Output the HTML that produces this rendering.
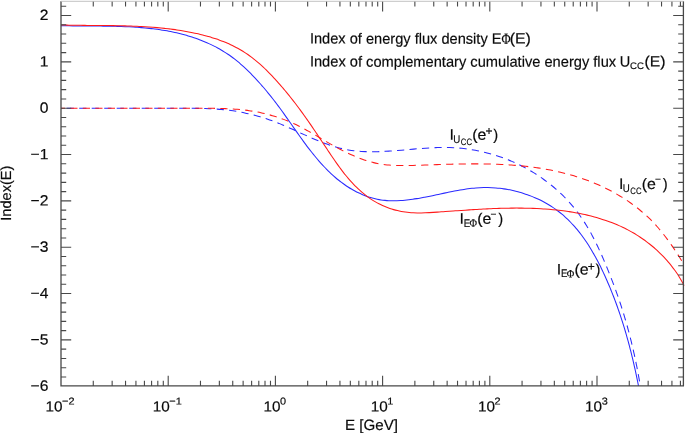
<!DOCTYPE html>
<html><head><meta charset="utf-8"><title>Index(E)</title>
<style>html,body{margin:0;padding:0;background:#fff}svg{display:block}</style></head>
<body>
<svg width="685" height="433" viewBox="0 0 685 433" style="display:block">
<rect width="685" height="433" fill="#fff"/>
<clipPath id="c"><rect x="60.5" y="1" width="624" height="385"/></clipPath>
<g clip-path="url(#c)" fill="none" stroke-linecap="butt">
<path d="M61.00,108.30C61.67,108.30 63.67,108.30 65.00,108.30C66.33,108.30 67.67,108.30 69.00,108.30C70.33,108.30 71.67,108.30 73.00,108.30C74.33,108.30 75.67,108.30 77.00,108.30C78.33,108.30 79.67,108.30 81.00,108.30C82.33,108.30 83.67,108.30 85.00,108.30C86.33,108.30 87.67,108.30 89.00,108.30C90.33,108.30 91.67,108.30 93.00,108.30C94.33,108.30 95.67,108.30 97.00,108.30C98.33,108.30 99.67,108.30 101.00,108.30C102.33,108.30 103.67,108.30 105.00,108.30C106.33,108.30 107.67,108.30 109.00,108.30C110.33,108.30 111.67,108.30 113.00,108.30C114.33,108.30 115.67,108.30 117.00,108.30C118.33,108.30 119.67,108.30 121.00,108.30C122.33,108.30 123.67,108.30 125.00,108.30C126.33,108.30 127.67,108.30 129.00,108.30C130.33,108.30 131.67,108.30 133.00,108.30C134.33,108.30 135.67,108.30 137.00,108.30C138.33,108.30 139.67,108.30 141.00,108.30C142.33,108.30 143.67,108.30 145.00,108.30C146.33,108.30 147.67,108.30 149.00,108.30C150.34,108.30 151.67,108.30 153.00,108.30C154.34,108.30 155.67,108.30 157.00,108.30C158.34,108.30 159.67,108.30 161.00,108.30C162.34,108.30 163.67,108.30 165.00,108.30C166.33,108.30 167.66,108.31 168.99,108.32C170.32,108.32 171.65,108.32 172.98,108.32C174.32,108.32 175.65,108.32 176.99,108.32C178.32,108.31 179.66,108.31 181.00,108.30C182.34,108.30 183.68,108.30 185.02,108.30C186.36,108.30 187.70,108.29 189.04,108.30C190.38,108.30 191.72,108.31 193.07,108.32C194.41,108.33 195.75,108.34 197.09,108.36C198.43,108.37 199.77,108.40 201.11,108.43C202.45,108.45 203.80,108.49 205.13,108.53C206.47,108.57 207.81,108.62 209.15,108.68C210.49,108.73 211.82,108.80 213.16,108.87C214.49,108.95 215.83,109.03 217.16,109.12C218.49,109.22 219.82,109.32 221.15,109.44C222.47,109.55 223.80,109.68 225.12,109.82C226.45,109.96 227.77,110.11 229.09,110.28C230.40,110.44 231.72,110.62 233.03,110.81C234.35,111.00 235.66,111.21 236.96,111.43C238.27,111.65 239.58,111.88 240.88,112.13C242.18,112.37 243.48,112.63 244.78,112.90C246.07,113.17 247.36,113.46 248.65,113.76C249.94,114.05 251.23,114.37 252.52,114.69C253.80,115.01 255.08,115.35 256.36,115.70C257.64,116.05 258.91,116.42 260.18,116.79C261.45,117.17 262.72,117.56 263.98,117.96C265.25,118.36 266.51,118.78 267.77,119.21C269.02,119.63 270.28,120.07 271.53,120.53C272.78,120.98 274.03,121.45 275.27,121.93C276.51,122.41 277.75,122.90 278.99,123.40C280.22,123.91 281.46,124.42 282.69,124.95C283.92,125.47 285.15,126.00 286.37,126.54C287.60,127.08 288.82,127.63 290.05,128.18C291.27,128.73 292.49,129.29 293.71,129.84C294.94,130.40 296.16,130.96 297.38,131.53C298.60,132.09 299.82,132.65 301.04,133.21C302.27,133.77 303.49,134.33 304.71,134.88C305.94,135.44 307.16,135.99 308.39,136.54C309.61,137.08 310.84,137.62 312.07,138.16C313.30,138.69 314.53,139.22 315.76,139.74C317.00,140.26 318.23,140.77 319.47,141.26C320.70,141.76 321.94,142.25 323.19,142.72C324.43,143.20 325.67,143.66 326.92,144.11C328.17,144.55 329.42,144.99 330.67,145.40C331.93,145.82 333.19,146.22 334.45,146.60C335.71,146.98 336.98,147.34 338.25,147.68C339.52,148.02 340.79,148.34 342.07,148.64C343.35,148.94 344.63,149.22 345.92,149.47C347.20,149.72 348.50,149.95 349.79,150.16C351.09,150.36 352.39,150.54 353.70,150.71C355.01,150.87 356.32,151.00 357.63,151.12C358.94,151.24 360.26,151.34 361.58,151.43C362.90,151.51 364.22,151.57 365.55,151.62C366.87,151.67 368.20,151.70 369.53,151.72C370.86,151.73 372.19,151.73 373.52,151.72C374.85,151.71 376.18,151.69 377.52,151.66C378.85,151.62 380.19,151.58 381.52,151.52C382.86,151.47 384.19,151.40 385.53,151.33C386.86,151.26 388.20,151.17 389.54,151.09C390.87,151.00 392.21,150.91 393.55,150.81C394.88,150.71 396.22,150.60 397.56,150.49C398.89,150.39 400.23,150.27 401.57,150.16C402.90,150.05 404.24,149.93 405.58,149.81C406.92,149.69 408.25,149.57 409.59,149.46C410.93,149.34 412.27,149.22 413.60,149.11C414.94,148.99 416.28,148.88 417.62,148.77C418.95,148.66 420.29,148.55 421.63,148.45C422.96,148.35 424.30,148.25 425.64,148.16C426.97,148.07 428.31,147.99 429.65,147.91C430.98,147.84 432.32,147.77 433.65,147.71C434.99,147.65 436.32,147.60 437.66,147.56C438.99,147.52 440.32,147.50 441.66,147.48C442.99,147.46 444.32,147.46 445.66,147.47C446.99,147.48 448.32,147.50 449.65,147.54C450.98,147.58 452.32,147.63 453.65,147.70C454.98,147.77 456.31,147.86 457.63,147.96C458.96,148.06 460.29,148.18 461.62,148.31C462.94,148.45 464.27,148.60 465.59,148.77C466.91,148.93 468.23,149.11 469.55,149.31C470.87,149.51 472.19,149.72 473.50,149.95C474.82,150.18 476.13,150.43 477.44,150.69C478.75,150.95 480.05,151.23 481.35,151.52C482.66,151.81 483.96,152.12 485.25,152.44C486.55,152.76 487.84,153.10 489.13,153.45C490.42,153.80 491.70,154.17 492.98,154.55C494.26,154.94 495.54,155.33 496.81,155.74C498.08,156.16 499.34,156.58 500.60,157.02C501.86,157.47 503.12,157.92 504.37,158.39C505.62,158.86 506.86,159.35 508.10,159.85C509.34,160.35 510.57,160.86 511.80,161.39C513.03,161.92 514.25,162.46 515.46,163.01C516.67,163.57 517.88,164.14 519.08,164.72C520.28,165.31 521.48,165.90 522.66,166.52C523.85,167.13 525.03,167.75 526.20,168.39C527.37,169.03 528.53,169.68 529.68,170.35C530.84,171.01 531.99,171.69 533.12,172.39C534.26,173.08 535.39,173.78 536.51,174.50C537.63,175.22 538.75,175.95 539.85,176.70C540.95,177.44 542.05,178.20 543.13,178.97C544.21,179.74 545.29,180.53 546.35,181.33C547.42,182.12 548.47,182.93 549.52,183.75C550.56,184.57 551.59,185.41 552.62,186.26C553.64,187.10 554.65,187.96 555.65,188.83C556.66,189.70 557.65,190.59 558.62,191.48C559.60,192.38 560.57,193.29 561.53,194.21C562.48,195.13 563.43,196.06 564.36,197.00C565.29,197.95 566.21,198.90 567.12,199.87C568.02,200.84 568.92,201.82 569.80,202.81C570.68,203.80 571.55,204.80 572.40,205.81C573.26,206.83 574.10,207.85 574.93,208.89C575.75,209.92 576.57,210.97 577.37,212.03C578.17,213.09 578.96,214.16 579.73,215.24C580.50,216.32 581.26,217.41 582.00,218.51C582.75,219.61 583.48,220.72 584.20,221.84C584.92,222.96 585.63,224.09 586.32,225.23C587.02,226.36 587.70,227.51 588.38,228.66C589.05,229.82 589.71,230.98 590.36,232.15C591.01,233.32 591.65,234.49 592.28,235.68C592.92,236.86 593.54,238.05 594.15,239.24C594.76,240.44 595.36,241.64 595.96,242.84C596.55,244.05 597.13,245.26 597.71,246.47C598.29,247.69 598.86,248.91 599.42,250.13C599.98,251.35 600.54,252.58 601.09,253.81C601.63,255.04 602.18,256.27 602.71,257.50C603.25,258.74 603.78,259.97 604.30,261.21C604.83,262.45 605.35,263.69 605.86,264.93C606.37,266.17 606.88,267.42 607.39,268.66C607.90,269.90 608.40,271.14 608.90,272.38C609.39,273.63 609.89,274.87 610.38,276.11C610.87,277.35 611.35,278.60 611.83,279.84C612.31,281.09 612.79,282.33 613.26,283.58C613.74,284.82 614.20,286.07 614.67,287.31C615.13,288.56 615.59,289.81 616.04,291.06C616.49,292.31 616.94,293.56 617.38,294.81C617.82,296.07 618.26,297.32 618.69,298.58C619.12,299.84 619.55,301.09 619.97,302.35C620.39,303.61 620.80,304.87 621.21,306.14C621.62,307.40 622.03,308.67 622.42,309.93C622.82,311.20 623.22,312.47 623.61,313.74C623.99,315.01 624.38,316.28 624.76,317.55C625.13,318.83 625.51,320.10 625.88,321.38C626.24,322.65 626.61,323.93 626.96,325.21C627.32,326.49 627.68,327.77 628.02,329.05C628.37,330.34 628.72,331.62 629.05,332.91C629.39,334.19 629.73,335.48 630.05,336.77C630.38,338.06 630.71,339.35 631.03,340.64C631.35,341.93 631.66,343.22 631.97,344.52C632.28,345.81 632.59,347.11 632.89,348.41C633.19,349.70 633.48,351.00 633.77,352.30C634.07,353.60 634.35,354.91 634.64,356.21C634.92,357.51 635.20,358.82 635.47,360.12C635.74,361.43 636.01,362.74 636.28,364.04C636.54,365.35 636.81,366.66 637.06,367.97C637.32,369.28 637.57,370.60 637.82,371.91C638.07,373.22 638.31,374.54 638.55,375.86C638.79,377.17 639.03,378.49 639.26,379.81C639.49,381.13 639.77,382.75 639.94,383.77C640.12,384.78 640.24,385.55 640.30,385.90" stroke="#2a2aff" stroke-width="1.05" stroke-dasharray="7.22 5.28" stroke-dashoffset="6.8"/>
<path d="M61.00,108.30C61.67,108.30 63.67,108.30 65.00,108.30C66.33,108.30 67.67,108.30 69.00,108.30C70.33,108.30 71.67,108.30 73.00,108.30C74.33,108.30 75.67,108.30 77.00,108.30C78.33,108.30 79.67,108.30 81.00,108.30C82.33,108.30 83.67,108.30 85.00,108.30C86.33,108.30 87.67,108.30 89.00,108.30C90.33,108.30 91.67,108.30 93.00,108.30C94.33,108.30 95.67,108.30 97.00,108.30C98.33,108.30 99.67,108.30 101.00,108.30C102.33,108.30 103.67,108.30 105.00,108.30C106.33,108.30 107.67,108.30 109.00,108.30C110.33,108.30 111.67,108.30 113.00,108.30C114.33,108.30 115.67,108.30 117.00,108.30C118.33,108.30 119.67,108.30 121.00,108.30C122.34,108.30 123.67,108.30 125.00,108.30C126.34,108.30 127.67,108.30 129.00,108.30C130.34,108.30 131.67,108.30 133.00,108.30C134.34,108.30 135.67,108.30 137.00,108.30C138.34,108.30 139.67,108.30 141.00,108.30C142.34,108.30 143.67,108.30 145.00,108.30C146.34,108.30 147.67,108.30 149.00,108.30C150.34,108.30 151.67,108.30 153.00,108.30C154.34,108.30 155.67,108.30 157.00,108.30C158.34,108.30 159.67,108.30 161.00,108.30C162.34,108.30 163.67,108.30 165.00,108.30C166.34,108.30 167.67,108.30 169.00,108.30C170.34,108.30 171.67,108.30 173.00,108.30C174.34,108.30 175.67,108.30 177.00,108.30C178.34,108.30 179.67,108.30 181.00,108.30C182.34,108.30 183.67,108.30 185.00,108.30C186.33,108.30 187.65,108.31 188.98,108.31C190.31,108.32 191.64,108.32 192.97,108.32C194.31,108.31 195.64,108.31 196.98,108.31C198.32,108.31 199.66,108.31 201.00,108.30C202.34,108.30 203.68,108.30 205.02,108.31C206.36,108.31 207.71,108.31 209.05,108.32C210.40,108.33 211.74,108.34 213.09,108.35C214.43,108.37 215.78,108.39 217.12,108.42C218.47,108.44 219.81,108.47 221.16,108.51C222.50,108.55 223.85,108.59 225.19,108.64C226.53,108.70 227.87,108.75 229.21,108.82C230.55,108.89 231.89,108.97 233.23,109.06C234.57,109.14 235.90,109.24 237.23,109.35C238.57,109.46 239.90,109.58 241.22,109.71C242.55,109.84 243.88,109.98 245.20,110.14C246.52,110.30 247.84,110.46 249.16,110.65C250.47,110.83 251.78,111.03 253.09,111.25C254.40,111.46 255.70,111.69 257.00,111.93C258.30,112.18 259.60,112.44 260.89,112.72C262.18,112.99 263.47,113.28 264.75,113.59C266.04,113.90 267.31,114.22 268.59,114.56C269.86,114.90 271.13,115.25 272.40,115.63C273.66,116.00 274.92,116.38 276.18,116.78C277.43,117.18 278.68,117.60 279.93,118.04C281.18,118.47 282.42,118.92 283.65,119.38C284.89,119.85 286.12,120.33 287.34,120.82C288.57,121.32 289.79,121.83 291.00,122.36C292.22,122.89 293.43,123.43 294.63,123.99C295.83,124.55 297.03,125.13 298.22,125.72C299.42,126.31 300.60,126.92 301.79,127.54C302.97,128.15 304.15,128.79 305.32,129.43C306.50,130.07 307.67,130.72 308.84,131.38C310.01,132.03 311.18,132.70 312.34,133.38C313.51,134.05 314.67,134.73 315.84,135.41C317.00,136.09 318.16,136.78 319.33,137.46C320.49,138.15 321.65,138.84 322.82,139.52C323.98,140.21 325.15,140.89 326.32,141.58C327.49,142.26 328.66,142.94 329.83,143.61C331.00,144.28 332.18,144.95 333.36,145.61C334.53,146.27 335.72,146.93 336.90,147.57C338.09,148.21 339.28,148.85 340.47,149.48C341.66,150.10 342.86,150.72 344.06,151.32C345.25,151.92 346.46,152.51 347.66,153.09C348.87,153.67 350.08,154.23 351.29,154.78C352.51,155.32 353.73,155.86 354.95,156.37C356.17,156.89 357.40,157.39 358.63,157.87C359.86,158.35 361.10,158.81 362.34,159.25C363.58,159.69 364.82,160.11 366.07,160.51C367.32,160.91 368.57,161.28 369.83,161.64C371.09,161.99 372.35,162.32 373.62,162.63C374.88,162.93 376.16,163.21 377.44,163.46C378.71,163.72 380.00,163.94 381.29,164.14C382.57,164.34 383.87,164.52 385.16,164.67C386.46,164.82 387.76,164.95 389.07,165.06C390.37,165.17 391.68,165.26 393.00,165.33C394.31,165.41 395.63,165.46 396.95,165.50C398.27,165.54 399.59,165.57 400.91,165.58C402.24,165.59 403.57,165.59 404.90,165.58C406.23,165.58 407.56,165.56 408.89,165.53C410.23,165.50 411.56,165.47 412.90,165.43C414.24,165.39 415.58,165.35 416.92,165.31C418.26,165.26 419.60,165.21 420.94,165.17C422.28,165.12 423.62,165.07 424.96,165.02C426.30,164.98 427.65,164.93 428.99,164.88C430.33,164.84 431.67,164.79 433.02,164.74C434.36,164.70 435.70,164.65 437.05,164.61C438.39,164.56 439.74,164.52 441.08,164.48C442.43,164.44 443.77,164.40 445.11,164.36C446.46,164.32 447.80,164.28 449.15,164.24C450.49,164.21 451.84,164.17 453.18,164.14C454.53,164.11 455.87,164.08 457.22,164.05C458.56,164.03 459.91,164.00 461.25,163.98C462.60,163.96 463.94,163.94 465.28,163.92C466.63,163.90 467.97,163.89 469.31,163.88C470.66,163.87 472.00,163.86 473.34,163.86C474.68,163.86 476.03,163.86 477.37,163.87C478.71,163.87 480.05,163.88 481.39,163.89C482.73,163.91 484.07,163.92 485.41,163.94C486.75,163.97 488.08,163.99 489.42,164.03C490.76,164.06 492.10,164.09 493.43,164.13C494.77,164.18 496.10,164.22 497.44,164.28C498.77,164.33 500.10,164.39 501.44,164.45C502.77,164.51 504.10,164.58 505.43,164.66C506.76,164.73 508.09,164.82 509.42,164.90C510.75,164.99 512.07,165.09 513.40,165.19C514.72,165.29 516.05,165.40 517.37,165.51C518.69,165.63 520.02,165.75 521.34,165.88C522.66,166.01 523.98,166.14 525.29,166.29C526.61,166.43 527.93,166.58 529.24,166.74C530.56,166.90 531.87,167.07 533.18,167.25C534.49,167.42 535.80,167.61 537.11,167.80C538.42,167.99 539.73,168.19 541.03,168.40C542.34,168.61 543.64,168.83 544.94,169.06C546.24,169.29 547.54,169.53 548.84,169.77C550.14,170.02 551.43,170.28 552.73,170.54C554.02,170.81 555.31,171.08 556.60,171.37C557.89,171.66 559.18,171.95 560.46,172.26C561.75,172.56 563.03,172.88 564.31,173.21C565.59,173.53 566.87,173.87 568.15,174.22C569.43,174.57 570.70,174.93 571.97,175.30C573.24,175.67 574.51,176.05 575.78,176.45C577.05,176.84 578.31,177.25 579.58,177.67C580.84,178.08 582.10,178.51 583.35,178.95C584.61,179.40 585.87,179.85 587.12,180.31C588.37,180.78 589.62,181.26 590.86,181.75C592.11,182.24 593.35,182.75 594.59,183.26C595.83,183.78 597.06,184.31 598.29,184.85C599.52,185.39 600.75,185.94 601.97,186.51C603.19,187.07 604.40,187.65 605.61,188.24C606.82,188.83 608.02,189.44 609.22,190.05C610.42,190.67 611.61,191.30 612.79,191.94C613.97,192.58 615.15,193.23 616.32,193.90C617.49,194.56 618.65,195.24 619.81,195.93C620.96,196.63 622.10,197.33 623.24,198.05C624.38,198.76 625.51,199.49 626.62,200.23C627.74,200.97 628.85,201.73 629.95,202.50C631.05,203.26 632.14,204.04 633.22,204.83C634.30,205.63 635.37,206.43 636.42,207.25C637.48,208.07 638.53,208.90 639.56,209.74C640.60,210.58 641.62,211.44 642.63,212.30C643.64,213.17 644.64,214.05 645.62,214.95C646.61,215.84 647.58,216.75 648.54,217.66C649.50,218.58 650.44,219.51 651.38,220.46C652.31,221.40 653.23,222.36 654.13,223.33C655.04,224.29 655.93,225.27 656.81,226.26C657.69,227.25 658.56,228.25 659.42,229.27C660.28,230.28 661.12,231.30 661.96,232.33C662.79,233.36 663.62,234.40 664.43,235.45C665.25,236.50 666.05,237.55 666.85,238.62C667.64,239.69 668.43,240.76 669.21,241.84C669.98,242.92 670.75,244.01 671.51,245.10C672.28,246.20 673.03,247.30 673.77,248.40C674.52,249.51 675.26,250.62 675.99,251.74C676.72,252.86 677.45,253.98 678.17,255.11C678.89,256.23 679.60,257.37 680.31,258.50C681.02,259.63 681.75,260.83 682.42,261.91C683.08,263.00 683.98,264.49 684.29,265.00" stroke="#ff1a1a" stroke-width="1.05" stroke-dasharray="7.2 5.3" stroke-dashoffset="3.2"/>
<path d="M61.00,25.70C61.66,25.71 63.64,25.76 64.97,25.79C66.29,25.81 67.62,25.83 68.94,25.85C70.27,25.87 71.60,25.89 72.93,25.91C74.26,25.92 75.59,25.93 76.92,25.95C78.26,25.96 79.59,25.97 80.93,25.97C82.26,25.98 83.60,25.99 84.94,26.00C86.27,26.00 87.61,26.01 88.95,26.02C90.29,26.02 91.63,26.03 92.97,26.04C94.31,26.04 95.65,26.05 96.99,26.06C98.34,26.07 99.68,26.08 101.02,26.09C102.36,26.11 103.71,26.12 105.05,26.14C106.39,26.16 107.74,26.18 109.08,26.20C110.42,26.22 111.77,26.25 113.11,26.28C114.45,26.30 115.79,26.34 117.13,26.37C118.48,26.41 119.82,26.45 121.16,26.50C122.50,26.54 123.84,26.59 125.18,26.65C126.52,26.71 127.86,26.77 129.20,26.84C130.53,26.90 131.87,26.98 133.21,27.06C134.54,27.14 135.88,27.22 137.21,27.32C138.54,27.41 139.88,27.51 141.21,27.62C142.54,27.73 143.87,27.85 145.19,27.97C146.52,28.10 147.85,28.23 149.17,28.37C150.49,28.51 151.82,28.66 153.14,28.82C154.46,28.98 155.77,29.15 157.09,29.33C158.41,29.51 159.72,29.70 161.03,29.90C162.34,30.10 163.65,30.32 164.96,30.54C166.26,30.76 167.57,30.99 168.87,31.24C170.17,31.48 171.47,31.74 172.76,32.01C174.06,32.28 175.35,32.56 176.64,32.86C177.93,33.15 179.22,33.46 180.50,33.78C181.78,34.10 183.06,34.44 184.34,34.79C185.61,35.14 186.89,35.50 188.16,35.88C189.43,36.26 190.69,36.65 191.95,37.06C193.22,37.47 194.48,37.89 195.73,38.33C196.98,38.77 198.23,39.22 199.48,39.70C200.73,40.17 201.97,40.65 203.20,41.16C204.44,41.66 205.67,42.18 206.89,42.72C208.11,43.26 209.33,43.81 210.54,44.38C211.74,44.96 212.94,45.54 214.13,46.15C215.33,46.75 216.51,47.38 217.68,48.02C218.85,48.66 220.02,49.31 221.17,49.99C222.32,50.66 223.46,51.36 224.59,52.07C225.72,52.78 226.84,53.51 227.95,54.25C229.05,55.00 230.14,55.77 231.22,56.55C232.30,57.33 233.37,58.13 234.42,58.95C235.47,59.77 236.51,60.60 237.54,61.44C238.57,62.29 239.59,63.15 240.59,64.03C241.60,64.90 242.60,65.79 243.58,66.69C244.56,67.58 245.54,68.50 246.50,69.41C247.46,70.33 248.42,71.26 249.36,72.20C250.31,73.14 251.24,74.08 252.17,75.03C253.09,75.99 254.01,76.95 254.92,77.91C255.82,78.87 256.72,79.84 257.62,80.82C258.51,81.80 259.39,82.78 260.27,83.76C261.15,84.75 262.01,85.75 262.88,86.74C263.74,87.74 264.60,88.75 265.44,89.76C266.29,90.77 267.14,91.78 267.97,92.81C268.81,93.83 269.64,94.86 270.47,95.89C271.29,96.92 272.11,97.96 272.93,99.01C273.75,100.05 274.56,101.10 275.36,102.15C276.17,103.21 276.97,104.27 277.77,105.34C278.57,106.40 279.36,107.48 280.15,108.55C280.94,109.63 281.73,110.71 282.51,111.80C283.30,112.89 284.08,113.98 284.86,115.08C285.64,116.17 286.42,117.27 287.20,118.37C287.98,119.48 288.75,120.58 289.53,121.69C290.30,122.79 291.08,123.90 291.85,125.01C292.63,126.12 293.41,127.23 294.18,128.34C294.96,129.44 295.74,130.55 296.52,131.66C297.30,132.77 298.08,133.87 298.87,134.98C299.65,136.08 300.44,137.19 301.23,138.28C302.02,139.38 302.81,140.48 303.61,141.57C304.41,142.66 305.21,143.75 306.02,144.83C306.82,145.92 307.63,146.99 308.45,148.07C309.27,149.14 310.09,150.20 310.92,151.26C311.75,152.32 312.58,153.37 313.42,154.42C314.27,155.46 315.11,156.50 315.97,157.53C316.83,158.55 317.69,159.57 318.57,160.58C319.44,161.59 320.32,162.59 321.21,163.58C322.10,164.56 323.00,165.54 323.91,166.51C324.82,167.47 325.74,168.43 326.67,169.37C327.60,170.31 328.54,171.24 329.50,172.16C330.45,173.07 331.41,173.97 332.39,174.86C333.37,175.75 334.36,176.62 335.36,177.48C336.36,178.33 337.37,179.18 338.40,180.00C339.43,180.83 340.47,181.64 341.53,182.43C342.59,183.22 343.66,183.99 344.74,184.75C345.83,185.50 346.93,186.24 348.04,186.96C349.16,187.67 350.29,188.37 351.43,189.04C352.58,189.72 353.74,190.37 354.91,191.00C356.08,191.63 357.26,192.23 358.45,192.81C359.65,193.38 360.85,193.93 362.07,194.46C363.29,194.98 364.52,195.47 365.76,195.94C366.99,196.40 368.24,196.83 369.50,197.23C370.76,197.63 372.03,198.00 373.30,198.33C374.58,198.67 375.86,198.97 377.15,199.23C378.44,199.49 379.74,199.72 381.05,199.91C382.35,200.10 383.67,200.25 384.98,200.38C386.30,200.50 387.62,200.59 388.95,200.66C390.27,200.72 391.60,200.75 392.93,200.76C394.26,200.77 395.59,200.74 396.92,200.70C398.25,200.66 399.58,200.59 400.91,200.51C402.24,200.42 403.57,200.31 404.90,200.19C406.22,200.07 407.55,199.92 408.87,199.76C410.19,199.61 411.51,199.43 412.83,199.24C414.15,199.06 415.47,198.85 416.79,198.64C418.10,198.43 419.42,198.20 420.73,197.97C422.05,197.73 423.36,197.49 424.67,197.24C425.98,196.98 427.29,196.72 428.60,196.46C429.91,196.19 431.22,195.92 432.53,195.65C433.84,195.37 435.15,195.09 436.46,194.81C437.77,194.53 439.07,194.25 440.38,193.97C441.69,193.69 443.00,193.41 444.31,193.13C445.61,192.85 446.92,192.57 448.23,192.30C449.54,192.03 450.85,191.77 452.16,191.51C453.47,191.25 454.78,190.99 456.09,190.75C457.40,190.50 458.71,190.27 460.03,190.04C461.34,189.82 462.66,189.60 463.97,189.40C465.29,189.20 466.60,189.01 467.92,188.83C469.24,188.66 470.56,188.50 471.88,188.35C473.21,188.21 474.53,188.08 475.85,187.98C477.18,187.87 478.51,187.78 479.84,187.71C481.17,187.64 482.50,187.60 483.83,187.57C485.17,187.55 486.50,187.55 487.84,187.57C489.18,187.59 490.52,187.63 491.86,187.70C493.20,187.76 494.54,187.85 495.88,187.96C497.21,188.07 498.55,188.20 499.89,188.35C501.23,188.50 502.56,188.68 503.89,188.88C505.23,189.07 506.56,189.29 507.88,189.53C509.21,189.77 510.53,190.03 511.85,190.31C513.17,190.60 514.48,190.90 515.79,191.22C517.10,191.55 518.40,191.89 519.70,192.26C520.99,192.63 522.29,193.02 523.57,193.42C524.85,193.83 526.13,194.26 527.39,194.71C528.66,195.16 529.92,195.63 531.17,196.12C532.42,196.61 533.66,197.13 534.89,197.66C536.12,198.19 537.34,198.74 538.54,199.31C539.75,199.88 540.95,200.48 542.14,201.09C543.32,201.70 544.49,202.33 545.65,202.98C546.81,203.63 547.96,204.30 549.09,204.99C550.22,205.68 551.34,206.39 552.45,207.12C553.55,207.85 554.64,208.60 555.71,209.37C556.78,210.14 557.84,210.93 558.88,211.73C559.92,212.54 560.94,213.36 561.95,214.21C562.95,215.05 563.95,215.91 564.92,216.79C565.90,217.67 566.85,218.56 567.80,219.47C568.74,220.38 569.67,221.31 570.58,222.26C571.50,223.20 572.40,224.16 573.28,225.13C574.17,226.11 575.04,227.09 575.89,228.10C576.75,229.10 577.59,230.12 578.42,231.14C579.25,232.17 580.07,233.22 580.87,234.27C581.67,235.32 582.46,236.39 583.24,237.47C584.02,238.55 584.78,239.64 585.53,240.74C586.29,241.84 587.03,242.95 587.76,244.07C588.49,245.19 589.20,246.32 589.91,247.46C590.62,248.59 591.31,249.74 592.00,250.90C592.68,252.05 593.35,253.22 594.02,254.39C594.68,255.56 595.33,256.74 595.98,257.92C596.62,259.10 597.25,260.30 597.88,261.49C598.50,262.69 599.12,263.89 599.72,265.10C600.33,266.30 600.92,267.51 601.51,268.73C602.10,269.94 602.68,271.16 603.25,272.38C603.83,273.61 604.39,274.83 604.95,276.06C605.50,277.29 606.05,278.52 606.59,279.75C607.14,280.98 607.67,282.21 608.20,283.44C608.73,284.68 609.25,285.91 609.76,287.15C610.28,288.38 610.78,289.62 611.29,290.86C611.79,292.10 612.28,293.34 612.77,294.58C613.26,295.82 613.74,297.06 614.21,298.31C614.69,299.55 615.16,300.80 615.62,302.05C616.08,303.29 616.54,304.54 616.99,305.79C617.44,307.04 617.88,308.29 618.32,309.55C618.76,310.80 619.19,312.06 619.62,313.31C620.04,314.57 620.46,315.83 620.88,317.09C621.29,318.34 621.70,319.60 622.11,320.87C622.51,322.13 622.91,323.39 623.30,324.66C623.70,325.92 624.08,327.19 624.47,328.46C624.85,329.73 625.23,331.00 625.60,332.27C625.97,333.54 626.34,334.82 626.70,336.09C627.06,337.37 627.42,338.64 627.77,339.92C628.13,341.20 628.47,342.48 628.82,343.76C629.16,345.04 629.50,346.33 629.83,347.61C630.17,348.90 630.50,350.18 630.82,351.47C631.15,352.76 631.47,354.05 631.79,355.34C632.10,356.63 632.42,357.93 632.72,359.22C633.03,360.52 633.34,361.82 633.64,363.12C633.94,364.41 634.24,365.72 634.53,367.02C634.82,368.32 635.11,369.63 635.40,370.93C635.68,372.24 635.96,373.55 636.24,374.86C636.52,376.17 636.80,377.48 637.07,378.79C637.34,380.11 637.63,381.56 637.87,382.74C638.11,383.92 638.40,385.37 638.50,385.90" stroke="#2a2aff" stroke-width="1.05"/>
<path d="M61.00,25.00C61.67,25.01 63.66,25.07 64.99,25.10C66.32,25.13 67.65,25.15 68.98,25.18C70.31,25.20 71.64,25.23 72.97,25.25C74.30,25.27 75.63,25.29 76.97,25.30C78.30,25.32 79.63,25.33 80.97,25.35C82.30,25.36 83.64,25.37 84.97,25.39C86.31,25.40 87.64,25.41 88.98,25.42C90.31,25.43 91.65,25.44 92.98,25.45C94.32,25.46 95.66,25.47 96.99,25.48C98.33,25.49 99.67,25.50 101.00,25.51C102.34,25.52 103.68,25.53 105.02,25.55C106.35,25.56 107.69,25.57 109.03,25.59C110.36,25.61 111.70,25.62 113.04,25.64C114.37,25.67 115.71,25.69 117.05,25.71C118.38,25.74 119.72,25.76 121.06,25.79C122.39,25.82 123.73,25.86 125.07,25.89C126.40,25.93 127.74,25.97 129.07,26.01C130.41,26.06 131.74,26.10 133.08,26.15C134.41,26.21 135.75,26.26 137.08,26.32C138.41,26.38 139.75,26.45 141.08,26.52C142.41,26.59 143.74,26.66 145.07,26.74C146.40,26.82 147.73,26.91 149.06,27.00C150.39,27.09 151.72,27.19 153.05,27.29C154.38,27.40 155.71,27.51 157.03,27.62C158.36,27.74 159.69,27.86 161.01,27.99C162.34,28.12 163.66,28.26 164.98,28.41C166.31,28.55 167.63,28.70 168.95,28.86C170.27,29.03 171.59,29.19 172.91,29.37C174.23,29.55 175.55,29.73 176.86,29.93C178.18,30.12 179.49,30.32 180.81,30.54C182.12,30.75 183.43,30.97 184.75,31.20C186.06,31.43 187.37,31.67 188.68,31.92C189.98,32.17 191.29,32.43 192.60,32.70C193.90,32.98 195.21,33.26 196.51,33.55C197.81,33.84 199.11,34.15 200.41,34.46C201.71,34.78 203.01,35.10 204.30,35.44C205.59,35.78 206.88,36.13 208.17,36.50C209.45,36.87 210.74,37.24 212.01,37.64C213.29,38.03 214.56,38.44 215.82,38.86C217.09,39.28 218.35,39.72 219.60,40.17C220.85,40.63 222.10,41.10 223.33,41.58C224.57,42.07 225.80,42.57 227.02,43.09C228.24,43.61 229.45,44.15 230.65,44.71C231.85,45.26 233.05,45.84 234.23,46.43C235.41,47.03 236.58,47.64 237.74,48.28C238.90,48.91 240.04,49.56 241.18,50.24C242.31,50.91 243.44,51.61 244.55,52.33C245.66,53.04 246.75,53.78 247.84,54.54C248.92,55.30 250.00,56.08 251.06,56.87C252.12,57.67 253.17,58.48 254.21,59.31C255.24,60.14 256.27,60.99 257.29,61.85C258.30,62.71 259.31,63.59 260.31,64.48C261.30,65.37 262.29,66.27 263.27,67.19C264.24,68.10 265.21,69.03 266.17,69.97C267.13,70.91 268.08,71.86 269.02,72.82C269.96,73.77 270.89,74.74 271.82,75.72C272.75,76.69 273.66,77.68 274.58,78.67C275.49,79.65 276.39,80.65 277.29,81.65C278.19,82.65 279.08,83.66 279.96,84.67C280.85,85.68 281.72,86.69 282.60,87.71C283.47,88.73 284.33,89.75 285.19,90.78C286.05,91.81 286.90,92.84 287.75,93.88C288.60,94.91 289.44,95.95 290.27,97.00C291.10,98.04 291.93,99.09 292.76,100.14C293.58,101.19 294.39,102.24 295.21,103.30C296.02,104.36 296.82,105.42 297.62,106.48C298.42,107.55 299.21,108.61 300.00,109.68C300.79,110.75 301.57,111.83 302.35,112.90C303.13,113.97 303.90,115.05 304.67,116.13C305.44,117.21 306.20,118.29 306.96,119.38C307.72,120.46 308.48,121.55 309.23,122.64C309.99,123.73 310.74,124.82 311.48,125.91C312.23,127.00 312.98,128.10 313.72,129.19C314.46,130.29 315.20,131.39 315.94,132.49C316.68,133.59 317.42,134.69 318.16,135.79C318.90,136.89 319.63,138.00 320.37,139.10C321.10,140.21 321.84,141.31 322.57,142.42C323.31,143.53 324.05,144.63 324.78,145.74C325.52,146.85 326.26,147.96 327.00,149.07C327.74,150.19 328.47,151.30 329.22,152.41C329.96,153.52 330.71,154.63 331.46,155.74C332.20,156.85 332.96,157.96 333.72,159.06C334.48,160.17 335.24,161.27 336.01,162.37C336.78,163.46 337.56,164.56 338.34,165.64C339.13,166.73 339.92,167.81 340.72,168.89C341.52,169.96 342.34,171.03 343.16,172.09C343.98,173.15 344.81,174.20 345.66,175.24C346.51,176.28 347.36,177.32 348.23,178.34C349.10,179.36 349.99,180.37 350.89,181.36C351.79,182.36 352.70,183.35 353.63,184.32C354.56,185.29 355.51,186.25 356.47,187.19C357.43,188.13 358.41,189.06 359.40,189.96C360.40,190.87 361.40,191.76 362.43,192.63C363.45,193.50 364.49,194.35 365.55,195.17C366.61,196.00 367.68,196.80 368.76,197.58C369.85,198.35 370.95,199.11 372.06,199.83C373.18,200.56 374.31,201.25 375.46,201.92C376.60,202.59 377.76,203.23 378.94,203.83C380.11,204.44 381.30,205.01 382.50,205.56C383.70,206.10 384.92,206.62 386.14,207.10C387.37,207.58 388.61,208.03 389.86,208.45C391.10,208.87 392.36,209.26 393.63,209.62C394.90,209.98 396.18,210.31 397.46,210.61C398.75,210.91 400.04,211.18 401.34,211.43C402.64,211.67 403.95,211.88 405.26,212.06C406.57,212.24 407.89,212.40 409.21,212.52C410.53,212.65 411.86,212.74 413.19,212.81C414.52,212.88 415.85,212.92 417.18,212.94C418.52,212.96 419.86,212.95 421.19,212.93C422.53,212.91 423.87,212.87 425.21,212.82C426.55,212.77 427.90,212.70 429.24,212.63C430.58,212.55 431.92,212.47 433.26,212.38C434.60,212.29 435.94,212.20 437.28,212.11C438.62,212.01 439.96,211.92 441.30,211.82C442.63,211.73 443.97,211.64 445.30,211.54C446.64,211.45 447.97,211.35 449.30,211.26C450.64,211.16 451.97,211.07 453.30,210.97C454.63,210.88 455.96,210.78 457.29,210.69C458.62,210.60 459.95,210.51 461.27,210.42C462.60,210.32 463.93,210.23 465.25,210.15C466.58,210.06 467.91,209.97 469.23,209.88C470.56,209.80 471.88,209.72 473.21,209.63C474.53,209.55 475.86,209.47 477.18,209.40C478.50,209.32 479.83,209.24 481.15,209.17C482.47,209.10 483.80,209.03 485.12,208.96C486.44,208.90 487.77,208.83 489.09,208.77C490.41,208.71 491.74,208.65 493.06,208.60C494.38,208.55 495.71,208.50 497.03,208.45C498.35,208.41 499.68,208.36 501.00,208.33C502.33,208.29 503.65,208.25 504.98,208.23C506.30,208.20 507.63,208.17 508.95,208.15C510.28,208.13 511.60,208.12 512.93,208.11C514.26,208.10 515.59,208.09 516.91,208.09C518.24,208.10 519.57,208.10 520.90,208.11C522.23,208.13 523.56,208.14 524.89,208.17C526.23,208.19 527.56,208.22 528.89,208.26C530.23,208.30 531.56,208.34 532.90,208.39C534.23,208.44 535.57,208.50 536.91,208.56C538.25,208.62 539.59,208.69 540.93,208.77C542.27,208.85 543.61,208.93 544.95,209.03C546.29,209.12 547.63,209.22 548.97,209.33C550.31,209.44 551.65,209.56 553.00,209.68C554.34,209.81 555.68,209.95 557.02,210.09C558.36,210.23 559.70,210.39 561.03,210.55C562.37,210.71 563.71,210.88 565.04,211.07C566.38,211.25 567.71,211.44 569.04,211.64C570.37,211.84 571.70,212.06 573.03,212.28C574.35,212.50 575.68,212.74 577.00,212.98C578.32,213.22 579.64,213.48 580.95,213.75C582.27,214.02 583.58,214.29 584.89,214.58C586.19,214.87 587.50,215.18 588.80,215.49C590.10,215.81 591.40,216.13 592.69,216.47C593.98,216.81 595.27,217.17 596.55,217.53C597.83,217.90 599.11,218.27 600.38,218.67C601.65,219.06 602.92,219.46 604.18,219.88C605.44,220.30 606.70,220.74 607.95,221.18C609.19,221.63 610.44,222.09 611.67,222.57C612.91,223.05 614.14,223.54 615.36,224.04C616.59,224.55 617.80,225.07 619.01,225.61C620.22,226.15 621.42,226.70 622.62,227.27C623.81,227.83 625.00,228.42 626.17,229.02C627.35,229.62 628.52,230.24 629.68,230.87C630.84,231.50 632.00,232.15 633.14,232.82C634.28,233.48 635.42,234.16 636.54,234.86C637.67,235.56 638.78,236.27 639.89,237.00C640.99,237.73 642.09,238.47 643.17,239.23C644.26,239.99 645.33,240.77 646.39,241.56C647.45,242.35 648.51,243.16 649.55,243.98C650.58,244.80 651.61,245.64 652.63,246.49C653.64,247.34 654.65,248.21 655.64,249.09C656.63,249.97 657.61,250.87 658.57,251.78C659.54,252.70 660.49,253.62 661.43,254.57C662.36,255.51 663.29,256.46 664.20,257.44C665.11,258.41 666.00,259.39 666.89,260.39C667.77,261.39 668.63,262.41 669.48,263.44C670.33,264.46 671.17,265.51 671.99,266.56C672.81,267.62 673.62,268.69 674.40,269.78C675.19,270.86 675.96,271.96 676.72,273.08C677.48,274.19 678.21,275.31 678.94,276.46C679.66,277.60 680.36,278.75 681.05,279.92C681.73,281.09 682.51,282.48 683.05,283.46C683.59,284.44 684.09,285.41 684.30,285.81" stroke="#ff1a1a" stroke-width="1.05"/>
</g>
<path d="M93.27,385.9v-5.2M93.27,1.3v5.2M112.15,385.9v-5.2M112.15,1.3v5.2M125.54,385.9v-5.2M125.54,1.3v5.2M135.93,385.9v-5.2M135.93,1.3v5.2M144.42,385.9v-5.2M144.42,1.3v5.2M151.59,385.9v-5.2M151.59,1.3v5.2M157.81,385.9v-5.2M157.81,1.3v5.2M163.29,385.9v-5.2M163.29,1.3v5.2M168.20,385.9v-10.2M168.20,1.3v10.2M200.47,385.9v-5.2M200.47,1.3v5.2M219.35,385.9v-5.2M219.35,1.3v5.2M232.74,385.9v-5.2M232.74,1.3v5.2M243.13,385.9v-5.2M243.13,1.3v5.2M251.62,385.9v-5.2M251.62,1.3v5.2M258.79,385.9v-5.2M258.79,1.3v5.2M265.01,385.9v-5.2M265.01,1.3v5.2M270.49,385.9v-5.2M270.49,1.3v5.2M275.40,385.9v-10.2M275.40,1.3v10.2M307.67,385.9v-5.2M307.67,1.3v5.2M326.55,385.9v-5.2M326.55,1.3v5.2M339.94,385.9v-5.2M339.94,1.3v5.2M350.33,385.9v-5.2M350.33,1.3v5.2M358.82,385.9v-5.2M358.82,1.3v5.2M365.99,385.9v-5.2M365.99,1.3v5.2M372.21,385.9v-5.2M372.21,1.3v5.2M377.69,385.9v-5.2M377.69,1.3v5.2M382.60,385.9v-10.2M382.60,1.3v10.2M414.87,385.9v-5.2M414.87,1.3v5.2M433.75,385.9v-5.2M433.75,1.3v5.2M447.14,385.9v-5.2M447.14,1.3v5.2M457.53,385.9v-5.2M457.53,1.3v5.2M466.02,385.9v-5.2M466.02,1.3v5.2M473.19,385.9v-5.2M473.19,1.3v5.2M479.41,385.9v-5.2M479.41,1.3v5.2M484.89,385.9v-5.2M484.89,1.3v5.2M489.80,385.9v-10.2M489.80,1.3v10.2M522.07,385.9v-5.2M522.07,1.3v5.2M540.95,385.9v-5.2M540.95,1.3v5.2M554.34,385.9v-5.2M554.34,1.3v5.2M564.73,385.9v-5.2M564.73,1.3v5.2M573.22,385.9v-5.2M573.22,1.3v5.2M580.39,385.9v-5.2M580.39,1.3v5.2M586.61,385.9v-5.2M586.61,1.3v5.2M592.09,385.9v-5.2M592.09,1.3v5.2M597.00,385.9v-10.2M597.00,1.3v10.2M629.27,385.9v-5.2M629.27,1.3v5.2M648.15,385.9v-5.2M648.15,1.3v5.2M661.54,385.9v-5.2M661.54,1.3v5.2M671.93,385.9v-5.2M671.93,1.3v5.2M680.42,385.9v-5.2M680.42,1.3v5.2M61.0,376.97h5.2M683.4,376.97h-5.2M61.0,367.70h5.2M683.4,367.70h-5.2M61.0,358.44h5.2M683.4,358.44h-5.2M61.0,349.17h5.2M683.4,349.17h-5.2M61.0,339.90h10.2M683.4,339.90h-10.2M61.0,330.63h5.2M683.4,330.63h-5.2M61.0,321.36h5.2M683.4,321.36h-5.2M61.0,312.10h5.2M683.4,312.10h-5.2M61.0,302.83h5.2M683.4,302.83h-5.2M61.0,293.56h10.2M683.4,293.56h-10.2M61.0,284.29h5.2M683.4,284.29h-5.2M61.0,275.02h5.2M683.4,275.02h-5.2M61.0,265.76h5.2M683.4,265.76h-5.2M61.0,256.49h5.2M683.4,256.49h-5.2M61.0,247.22h10.2M683.4,247.22h-10.2M61.0,237.95h5.2M683.4,237.95h-5.2M61.0,228.68h5.2M683.4,228.68h-5.2M61.0,219.42h5.2M683.4,219.42h-5.2M61.0,210.15h5.2M683.4,210.15h-5.2M61.0,200.88h10.2M683.4,200.88h-10.2M61.0,191.61h5.2M683.4,191.61h-5.2M61.0,182.34h5.2M683.4,182.34h-5.2M61.0,173.08h5.2M683.4,173.08h-5.2M61.0,163.81h5.2M683.4,163.81h-5.2M61.0,154.54h10.2M683.4,154.54h-10.2M61.0,145.27h5.2M683.4,145.27h-5.2M61.0,136.00h5.2M683.4,136.00h-5.2M61.0,126.74h5.2M683.4,126.74h-5.2M61.0,117.47h5.2M683.4,117.47h-5.2M61.0,108.20h10.2M683.4,108.20h-10.2M61.0,98.93h5.2M683.4,98.93h-5.2M61.0,89.66h5.2M683.4,89.66h-5.2M61.0,80.40h5.2M683.4,80.40h-5.2M61.0,71.13h5.2M683.4,71.13h-5.2M61.0,61.86h10.2M683.4,61.86h-10.2M61.0,52.59h5.2M683.4,52.59h-5.2M61.0,43.32h5.2M683.4,43.32h-5.2M61.0,34.06h5.2M683.4,34.06h-5.2M61.0,24.79h5.2M683.4,24.79h-5.2M61.0,15.52h10.2M683.4,15.52h-10.2M61.0,6.25h5.2M683.4,6.25h-5.2" stroke="#484848" stroke-width="1.1" fill="none"/>
<path d="M61.0,1.3V385.9H683.4V1.3" fill="none" stroke="#484848" stroke-width="1.3"/>
<path d="M61.0,1.3H683.4" fill="none" stroke="#bbb" stroke-width="0.9"/>
<g font-family="Liberation Sans, Arial, sans-serif" fill="#0a0a0a" stroke="#0a0a0a" stroke-width="0.18" stroke-linejoin="round">
<text transform="translate(48.40 390.84) rotate(0.03) scale(1.05 1)" font-size="14.9" text-anchor="end">−6</text>
<text transform="translate(48.40 344.50) rotate(0.03) scale(1.05 1)" font-size="14.9" text-anchor="end">−5</text>
<text transform="translate(48.40 298.16) rotate(0.03) scale(1.05 1)" font-size="14.9" text-anchor="end">−4</text>
<text transform="translate(48.40 251.82) rotate(0.03) scale(1.05 1)" font-size="14.9" text-anchor="end">−3</text>
<text transform="translate(48.40 205.48) rotate(0.03) scale(1.05 1)" font-size="14.9" text-anchor="end">−2</text>
<text transform="translate(48.40 159.14) rotate(0.03) scale(1.05 1)" font-size="14.9" text-anchor="end">−1</text>
<text transform="translate(48.40 112.80) rotate(0.03) scale(1.05 1)" font-size="14.9" text-anchor="end">0</text>
<text transform="translate(48.40 66.46) rotate(0.03) scale(1.05 1)" font-size="14.9" text-anchor="end">1</text>
<text transform="translate(48.40 20.12) rotate(0.03) scale(1.05 1)" font-size="14.9" text-anchor="end">2</text>
<text transform="translate(45.50 411.60) rotate(0.03) scale(1.04 1)" font-size="14.7">10</text>
<text transform="translate(62.10 404.60) rotate(0.03) scale(1.1 1)" font-size="9.9">−2</text>
<text transform="translate(152.70 411.60) rotate(0.03) scale(1.04 1)" font-size="14.7">10</text>
<text transform="translate(169.30 404.60) rotate(0.03) scale(1.1 1)" font-size="9.9">−1</text>
<text transform="translate(263.50 411.60) rotate(0.03) scale(1.04 1)" font-size="14.7">10</text>
<text transform="translate(280.10 404.60) rotate(0.03) scale(1.1 1)" font-size="9.9">0</text>
<text transform="translate(370.70 411.60) rotate(0.03) scale(1.04 1)" font-size="14.7">10</text>
<text transform="translate(387.30 404.60) rotate(0.03) scale(1.1 1)" font-size="9.9">1</text>
<text transform="translate(477.90 411.60) rotate(0.03) scale(1.04 1)" font-size="14.7">10</text>
<text transform="translate(494.50 404.60) rotate(0.03) scale(1.1 1)" font-size="9.9">2</text>
<text transform="translate(585.10 411.60) rotate(0.03) scale(1.04 1)" font-size="14.7">10</text>
<text transform="translate(601.70 404.60) rotate(0.03) scale(1.1 1)" font-size="9.9">3</text>
<text transform="translate(371.50 430.10) rotate(0.03) scale(1.015 1)" font-size="14.9" text-anchor="middle">E [GeV]</text>
<text transform="translate(11.0,193.15) rotate(-90.03)" text-anchor="middle" font-size="14.6">Index(E)</text>
<text transform="translate(309.9 43.6) rotate(0.03)" font-size="15.0" textLength="191.6" lengthAdjust="spacingAndGlyphs">Index of energy flux density E</text>
<text transform="translate(501.50 43.60) rotate(0.03) scale(0.8 1)" font-size="15.6" font-family="Liberation Serif, serif">Φ</text>
<text transform="translate(509.70 43.60) rotate(0.03) scale(1.06 1)" font-size="15.0">(E)</text>
<text transform="translate(309.9 66.6) rotate(0.03)" font-size="15.0" textLength="306.2" lengthAdjust="spacingAndGlyphs">Index of complementary cumulative energy flux</text>
<text transform="translate(619.70 66.60) rotate(0.03) scale(0.97 1)" font-size="15.0">U</text>
<text transform="translate(629.90 69.10) rotate(0.03) scale(1.02 1)" font-size="9.5">CC</text>
<text transform="translate(644.40 66.60) rotate(0.03) scale(1.05 1)" font-size="15.0">(E)</text>
<text transform="translate(449.45 139.80) rotate(0.03) scale(1.05 1)" font-size="15.2">I</text><text transform="translate(453.35 142.70) rotate(0.03) scale(0.86 1)" font-size="11.3">U</text><text transform="translate(460.85 144.80) rotate(0.03) scale(0.84 1)" font-size="9.2">CC</text><text transform="translate(472.25 139.80) rotate(0.03) scale(1.05 1)" font-size="15.2">(e</text><text transform="translate(485.55 135.00) rotate(0.03) scale(1.0 1)" font-size="12">+</text><text transform="translate(493.35 139.80) rotate(0.03) scale(0.97 1)" font-size="15.2">)</text>
<text transform="translate(618.95 189.00) rotate(0.03) scale(1.05 1)" font-size="15.2">I</text><text transform="translate(622.85 191.90) rotate(0.03) scale(0.86 1)" font-size="11.3">U</text><text transform="translate(630.35 194.00) rotate(0.03) scale(0.84 1)" font-size="9.2">CC</text><text transform="translate(641.75 189.00) rotate(0.03) scale(1.05 1)" font-size="15.2">(e</text><text transform="translate(655.05 182.90) rotate(0.03) scale(0.88 1)" font-size="11.5">−</text><text transform="translate(662.85 189.00) rotate(0.03) scale(0.97 1)" font-size="15.2">)</text>
<text transform="translate(459.45 223.80) rotate(0.03) scale(1.05 1)" font-size="15.2">I</text><text transform="translate(463.65 226.60) rotate(0.03) scale(0.86 1)" font-size="11.2">E</text><text transform="translate(469.45 226.70) rotate(0.03) scale(0.9 1)" font-size="11.4" font-family="Liberation Serif, serif">Φ</text><text transform="translate(477.15 223.80) rotate(0.03) scale(1.05 1)" font-size="15.2">(e</text><text transform="translate(490.45 218.00) rotate(0.03) scale(0.88 1)" font-size="11.5">−</text><text transform="translate(498.25 223.80) rotate(0.03) scale(0.97 1)" font-size="15.2">)</text>
<text transform="translate(556.80 274.50) rotate(0.03) scale(1.05 1)" font-size="15.2">I</text><text transform="translate(561.00 277.30) rotate(0.03) scale(0.86 1)" font-size="11.2">E</text><text transform="translate(566.80 277.40) rotate(0.03) scale(0.9 1)" font-size="11.4" font-family="Liberation Serif, serif">Φ</text><text transform="translate(574.50 274.50) rotate(0.03) scale(1.05 1)" font-size="15.2">(e</text><text transform="translate(587.80 270.40) rotate(0.03) scale(1.0 1)" font-size="12">+</text><text transform="translate(595.60 274.50) rotate(0.03) scale(0.97 1)" font-size="15.2">)</text>
</g>
</svg>
</body></html>
